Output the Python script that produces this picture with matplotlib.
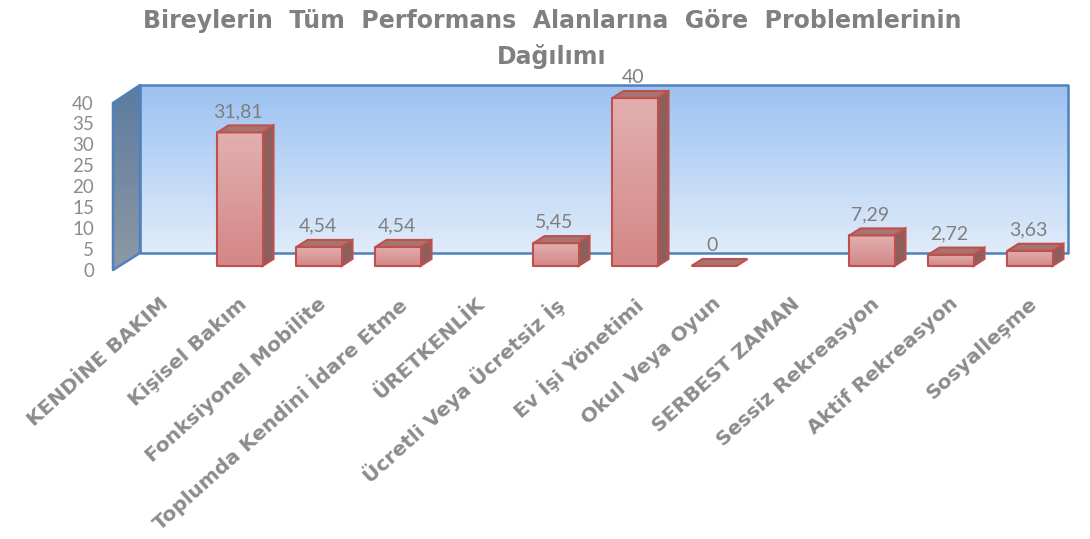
import numpy as np
import matplotlib.pyplot as plt
from matplotlib.patches import Polygon
from matplotlib.colors import LinearSegmentedColormap

plt.rcParams['font.family'] = ['Lato', 'DejaVu Sans']

categories = ["KENDİNE BAKIM", "Kişisel Bakım", "Fonksiyonel Mobilite",
              "Toplumda Kendini İdare Etme", "ÜRETKENLİK", "Ücretli Veya Ücretsiz İş",
              "Ev İşi Yönetimi", "Okul Veya Oyun", "SERBEST ZAMAN",
              "Sessiz Rekreasyon", "Aktif Rekreasyon", "Sosyalleşme"]
values = [None, 31.81, 4.54, 4.54, None, 5.45, 40, 0, None, 7.29, 2.72, 3.63]
yticks = [0, 5, 10, 15, 20, 25, 30, 35, 40]
title = "Bireylerin  Tüm  Performans  Alanlarına  Göre  Problemlerinin\nDağılımı"

# pixel -> data helpers (layout only)
def X(px):
    return (px - 161) / 79.0

def Y(py):
    return (266 - py) / 4.2

fig = plt.figure(figsize=(10.9, 5.39), dpi=100)
ax = fig.add_axes([0, 0, 1, 1])
ax.axis('off')


def grad_poly(pts, c_top, c_bot, edge, lw, z):
    pts = np.array(pts)
    cmap = LinearSegmentedColormap.from_list('g', [c_bot, c_top])
    im = ax.imshow(np.linspace(0, 1, 256).reshape(-1, 1), cmap=cmap,
                   extent=[pts[:, 0].min(), pts[:, 0].max(), pts[:, 1].min(), pts[:, 1].max()],
                   origin='lower', aspect='auto', zorder=z, interpolation='bilinear')
    p = Polygon(pts, closed=True, fc='none', ec=edge, lw=lw, zorder=z + 0.1, joinstyle='round')
    ax.add_patch(p)
    im.set_clip_path(p)


# walls
wall_edge = '#4F81BD'
grad_poly([(X(140), Y(253)), (X(1068), Y(253)), (X(1068), Y(85)), (X(140), Y(85))],
          '#9CC2F1', '#E0ECFA', wall_edge, 1.8, 1)
grad_poly([(X(113), Y(270)), (X(140), Y(253)), (X(140), Y(85)), (X(113), Y(103))],
          '#5B7BA0', '#8E99A4', wall_edge, 1.8, 1)

# bars
w = 0.285
dx = 11 / 79.0
dy = 7 / 4.2
bar_edge = '#C0504D'
for i, v in enumerate(values):
    if v is None:
        continue
    x0, x1 = i - w, i + w
    top = [(x0, v), (x1, v), (x1 + dx, v + dy), (x0 + dx, v + dy)]
    if v > 0:
        side = [(x1, 0), (x1 + dx, dy), (x1 + dx, v + dy), (x1, v)]
        ax.add_patch(Polygon(side, closed=True, fc='#8C5F5D', ec=bar_edge, lw=1.5, zorder=3))
        grad_poly([(x0, 0), (x1, 0), (x1, v), (x0, v)], '#E2B0AF', '#D38786', bar_edge, 1.5, 3)
    ax.add_patch(Polygon(top, closed=True, fc='#A87471', ec=bar_edge, lw=1.5, zorder=3.5))
    lbl = f"{v:g}".replace('.', ',')
    ax.text(i - 0.02, v + dy + 3.3, lbl, ha='center', va='center',
            fontsize=14, color='#7F7F7F', zorder=5)

# y tick labels
for t in yticks:
    ax.text(X(94), t * 0.994 - 1.2, str(t), ha='right', va='center',
            fontsize=13.5, color='#8C8C8C')

# category labels
for i, c in enumerate(categories):
    ax.text(i - 2 / 79.0, Y(294), c, rotation=42, rotation_mode='anchor',
            ha='right', va='top', fontsize=14.5, fontweight='bold', color='#8C8C8C',
            family='DejaVu Sans')

ax.text(X(552), Y(39), title, ha='center', va='center', fontsize=17,
        fontweight='bold', color='#808080', linespacing=1.55, family='DejaVu Sans')

ax.set_xlim(X(0), X(1090))
ax.set_ylim(Y(539), Y(0))
fig.savefig('out.png', dpi=100)
